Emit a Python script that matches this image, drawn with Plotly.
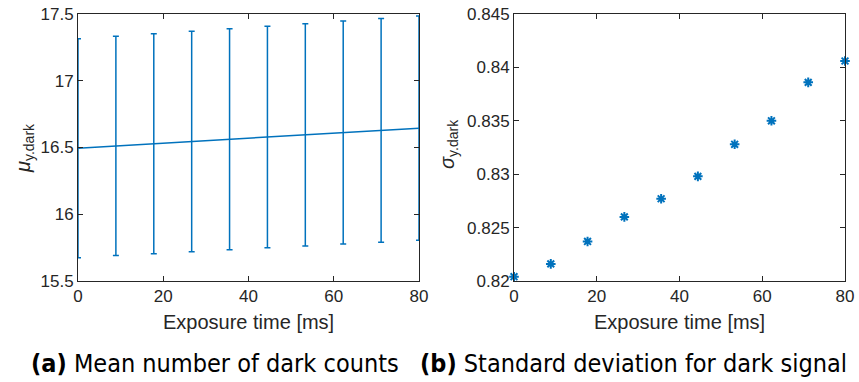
import plotly.graph_objects as go

exposure = [0, 8.89, 17.78, 26.67, 35.56, 44.44, 53.33, 62.22, 71.11, 80]
mu_dark = [16.495, 16.512, 16.528, 16.545, 16.562, 16.578, 16.595, 16.612, 16.628, 16.645]
sigma_dark = [0.8204, 0.8216, 0.8237, 0.8260, 0.8277, 0.8298, 0.8328, 0.8350, 0.8386, 0.8406]

left_yticks = [15.5, 16, 16.5, 17, 17.5]
left_yticklabels = ["15.5", "16", "16.5", "17", "17.5"]
right_yticks = [0.82, 0.825, 0.83, 0.835, 0.84, 0.845]
right_yticklabels = ["0.82", "0.825", "0.83", "0.835", "0.84", "0.845"]
xticks = [0, 20, 40, 60, 80]

blue = "#0072BD"
axcol = "#262626"
W, H = 859, 382

fig = go.Figure()
fig.add_trace(go.Scatter(
    x=exposure, y=mu_dark, mode="lines",
    line=dict(color=blue, width=1.5),
    error_y=dict(type="data", array=sigma_dark, visible=True, color=blue, thickness=1.5, width=3),
    xaxis="x", yaxis="y", showlegend=False, cliponaxis=False))
fig.add_trace(go.Scatter(
    x=exposure, y=sigma_dark, mode="markers",
    marker=dict(symbol="asterisk-open", size=8, color=blue, line=dict(color=blue, width=2)),
    xaxis="x2", yaxis="y2", showlegend=False, cliponaxis=False))

tick_font = dict(family="Liberation Sans, Arial, sans-serif", size=17, color=axcol)
title_font = dict(family="Liberation Sans, Arial, sans-serif", size=20, color=axcol)
common_x = dict(range=[0, 80], tickvals=xticks, ticks="inside", ticklen=5, tickcolor=axcol,
                showline=True, linecolor=axcol, linewidth=1, mirror="allticks",
                showgrid=False, zeroline=False, tickfont=tick_font, automargin=False)
common_y = dict(ticks="inside", ticklen=5, tickcolor=axcol,
                showline=True, linecolor=axcol, linewidth=1, mirror="allticks",
                showgrid=False, zeroline=False, tickfont=tick_font, automargin=False)

y0 = 1 - 281 / H
y1 = 1 - 14 / H
fig.update_layout(
    width=W, height=H, margin=dict(l=0, r=0, t=0, b=0),
    plot_bgcolor="white", paper_bgcolor="white",
    xaxis=dict(domain=[78 / W, 419 / W], anchor="y", **common_x),
    yaxis=dict(domain=[y0, y1], anchor="x", range=[15.5, 17.5], tickvals=left_yticks,
               ticktext=left_yticklabels, **common_y),
    xaxis2=dict(domain=[514 / W, 845 / W], anchor="y2", **common_x),
    yaxis2=dict(domain=[y0, y1], anchor="x2", range=[0.82, 0.845], tickvals=right_yticks,
                ticktext=right_yticklabels, **common_y),
)

def pa(x, y, text, font, angle=0):
    fig.add_annotation(x=x / W, y=1 - y / H, xref="paper", yref="paper", showarrow=False,
                       text=text, font=font, xanchor="center", yanchor="middle", textangle=angle)

pa(248, 322, "Exposure time [ms]", title_font)
pa(679, 322, "Exposure time [ms]", title_font)
pa(24, 148, "<i>μ</i><sub>y.dark</sub>", title_font, -90)
pa(449, 144, "<i>σ</i><sub>y.dark</sub>", title_font, -90)

cap_font = dict(family="DejaVu Sans Condensed, Liberation Sans Narrow, sans-serif", size=25, color="black")
pa(215, 363, "<b>(a)</b> Mean number of dark counts", cap_font)
pa(633, 363, "<b>(b)</b> Standard deviation for dark signal", cap_font)

fig.write_html("out.html")
